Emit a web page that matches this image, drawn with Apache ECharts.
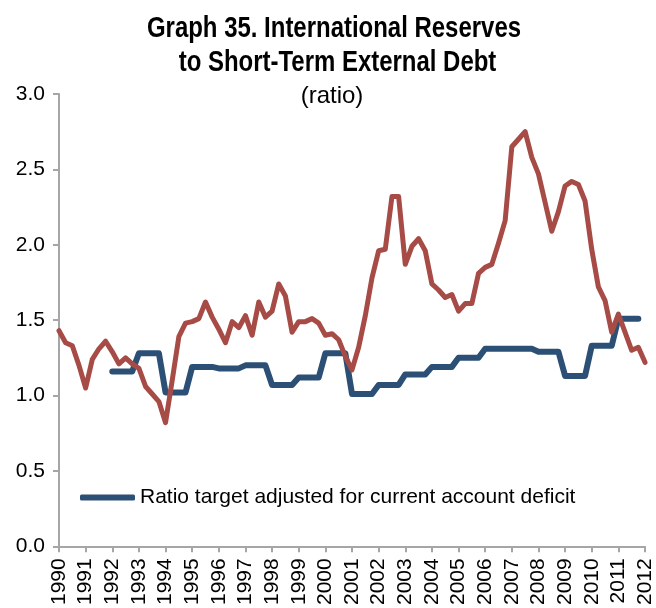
<!DOCTYPE html>
<html><head><meta charset="utf-8">
<script src="https://cdn.jsdelivr.net/npm/echarts@6/dist/echarts.min.js"></script>
<style>html,body{margin:0;padding:0;background:#fff}#c{width:656px;height:608px}</style>
</head><body><div id="c"></div>
<script>
// Quarterly observations, 1990 Q1 .. 2012 Q1
const firstYear = 1990;
const lastYear = 2012;
const quarters = [];
for (let y = firstYear; y <= lastYear; y++) {
  for (let q = 1; q <= 4; q++) {
    if (y === lastYear && q > 1) break;
    quarters.push(y + ' Q' + q);
  }
}

// International reserves / short-term external debt (red)
const reservesRatio = [
  1.43, 1.35, 1.33, 1.20,   // 1990
  1.05, 1.24, 1.31, 1.36,   // 1991
  1.29, 1.21, 1.25, 1.21,   // 1992
  1.18, 1.06, 1.01, 0.96,   // 1993
  0.82, 1.10, 1.39, 1.48,   // 1994
  1.49, 1.51, 1.62, 1.52,   // 1995
  1.44, 1.35, 1.49, 1.45,   // 1996
  1.53, 1.40, 1.62, 1.52,   // 1997
  1.56, 1.74, 1.66, 1.42,   // 1998
  1.49, 1.49, 1.51, 1.48,   // 1999
  1.40, 1.41, 1.37, 1.26,   // 2000
  1.17, 1.32, 1.53, 1.78,   // 2001
  1.96, 1.97, 2.32, 2.32,   // 2002
  1.87, 1.99, 2.04, 1.96,   // 2003
  1.74, 1.70, 1.65, 1.67,   // 2004
  1.56, 1.61, 1.61, 1.81,   // 2005
  1.85, 1.87, 2.01, 2.16,   // 2006
  2.65, 2.70, 2.75, 2.58,   // 2007
  2.47, 2.28, 2.09, 2.22,   // 2008
  2.39, 2.42, 2.40, 2.29,   // 2009
  1.97, 1.72, 1.63, 1.42,   // 2010
  1.54, 1.42, 1.30, 1.32,   // 2011
  1.22                      // 2012
];

// Ratio target adjusted for current account deficit (blue)
const targetRatio = [
  null, null, null, null,   // 1990
  null, null, null, null,   // 1991
  1.16, 1.16, 1.16, 1.16,   // 1992
  1.28, 1.28, 1.28, 1.28,   // 1993
  1.02, 1.02, 1.02, 1.02,   // 1994
  1.19, 1.19, 1.19, 1.19,   // 1995
  1.18, 1.18, 1.18, 1.18,   // 1996
  1.20, 1.20, 1.20, 1.20,   // 1997
  1.07, 1.07, 1.07, 1.07,   // 1998
  1.12, 1.12, 1.12, 1.12,   // 1999
  1.28, 1.28, 1.28, 1.28,   // 2000
  1.01, 1.01, 1.01, 1.01,   // 2001
  1.07, 1.07, 1.07, 1.07,   // 2002
  1.14, 1.14, 1.14, 1.14,   // 2003
  1.19, 1.19, 1.19, 1.19,   // 2004
  1.25, 1.25, 1.25, 1.25,   // 2005
  1.31, 1.31, 1.31, 1.31,   // 2006
  1.31, 1.31, 1.31, 1.31,   // 2007
  1.29, 1.29, 1.29, 1.29,   // 2008
  1.13, 1.13, 1.13, 1.13,   // 2009
  1.33, 1.33, 1.33, 1.33,   // 2010
  1.51, 1.51, 1.51, 1.51,   // 2011
  null                      // 2012
];

const titleLines = ['Graph 35. International Reserves', 'to Short-Term External Debt'];
const subtitleText = '(ratio)';
const targetName = 'Ratio target adjusted for current account deficit';
const reservesName = 'International reserves to short-term external debt';

const axisGrey = '#a6a6a6';
const sans = '"Liberation Sans", Arial, Helvetica, sans-serif';
const chart = echarts.init(document.getElementById('c'), null, {renderer: 'canvas'});

function titleText(txt, x, y, font, sx) {
  return {
    type: 'text', x: x, y: y, scaleX: sx, scaleY: 1, silent: true,
    style: {text: txt, font: font, fill: '#000',
      textAlign: 'center', textVerticalAlign: 'middle',
      align: 'center', verticalAlign: 'middle'}
  };
}

chart.setOption({
  animation: false,
  backgroundColor: '#fff',
  graphic: [
    titleText(titleLines[0], 334, 29, 'bold 29px ' + sans, 0.826),
    titleText(titleLines[1], 337.5, 62.5, 'bold 29px ' + sans, 0.826),
    titleText(subtitleText, 332, 96, '24px ' + sans, 1)
  ],
  legend: {
    data: [{name: targetName, icon: 'roundRect'}],
    left: 80, top: 487, padding: 0,
    itemWidth: 55, itemHeight: 6, itemGap: 4,
    textStyle: {fontFamily: sans, fontSize: 21, color: '#000'}
  },
  grid: {left: 59, right: 11, top: 94, bottom: 59, containLabel: false},
  xAxis: {
    type: 'category', data: quarters, boundaryGap: false,
    axisLine: {lineStyle: {color: axisGrey, width: 2}},
    axisTick: {show: true, interval: 3, length: 6, lineStyle: {color: axisGrey, width: 2}},
    axisLabel: {interval: 3, rotate: 90, margin: 12, fontSize: 21, color: '#000',
      fontFamily: sans,
      formatter: v => v.slice(0, 4)},
    splitLine: {show: false}
  },
  yAxis: {
    type: 'value', min: 0, max: 3, interval: 0.5,
    axisLine: {show: true, lineStyle: {color: axisGrey, width: 2}},
    axisTick: {show: true, length: 6, lineStyle: {color: axisGrey, width: 2}},
    axisLabel: {margin: 14, fontSize: 21, color: '#000',
      fontFamily: sans,
      formatter: v => v.toFixed(1)},
    splitLine: {show: false}
  },
  series: [
    {
      name: targetName, type: 'line', data: targetRatio, symbol: 'none',
      connectNulls: false,
      lineStyle: {color: '#2c5075', width: 6, cap: 'round', join: 'round'},
      itemStyle: {color: '#2c5075'}
    },
    {
      name: reservesName, type: 'line', data: reservesRatio, symbol: 'none',
      lineStyle: {color: '#a64b45', width: 5, cap: 'round', join: 'round'},
      itemStyle: {color: '#a64b45'}
    }
  ]
});
</script>
</body></html>
